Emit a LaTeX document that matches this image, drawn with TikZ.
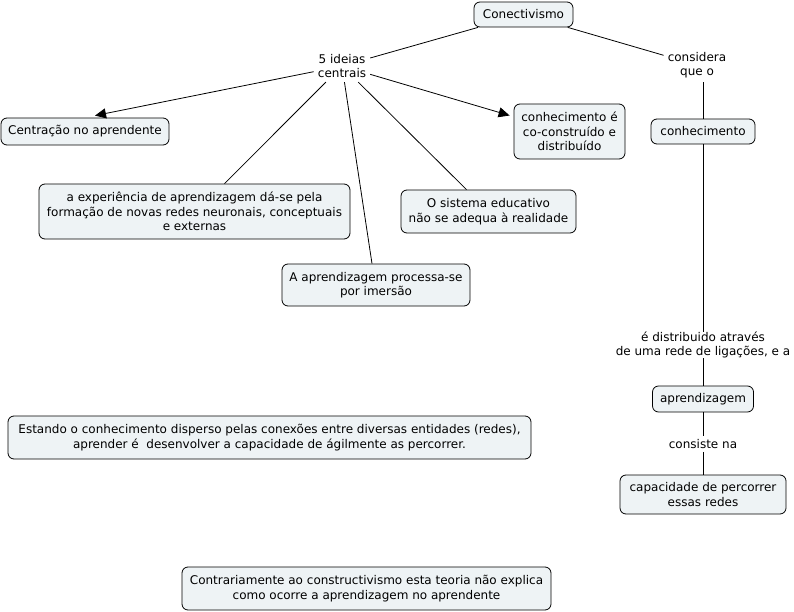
\documentclass[tikz,border=0pt]{standalone}
\usepackage{fontspec}
\setmainfont{DejaVu Sans}
\usetikzlibrary{arrows.meta}
\definecolor{boxfill}{HTML}{EEF3F5}
\newcommand{\mapfont}{\fontsize{12}{14.5}\selectfont}
\begin{document}
\begin{tikzpicture}[x=1pt,y=-1pt,
  box/.style={draw=black, line width=0.8pt, rounded corners=6pt, fill=boxfill, inner sep=0pt, align=center, font=\mapfont},
  lab/.style={inner sep=4pt, align=center, font=\mapfont},
  con/.style={line width=0.8pt},
  arr/.style={con, -{Triangle[length=11pt,width=10pt]}}]
\useasboundingbox (0,0) rectangle (794,612);
% nodes
\node[box, minimum width=99pt, minimum height=25pt] (conect) at (523.5,14.5) {Conectivismo};
\node[lab] (ideas) at (342,66) {5 ideias\\centrais};
\node[lab] (cons) at (697,65) {considera\\que o};
\node[box, minimum width=168pt, minimum height=27pt] (centr) at (85,131.5) {Centração no aprendente};
\node[box, minimum width=111pt, minimum height=55pt] (co) at (569.5,131.5) {conhecimento é\\co-construído e\\distribuído};
\node[box, minimum width=104pt, minimum height=25pt] (conh) at (703,131.5) {conhecimento};
\node[box, minimum width=311pt, minimum height=55pt] (exp) at (194.5,211.5) {a experiência de aprendizagem dá-se pela\\formação de novas redes neuronais, conceptuais\\e externas};
\node[box, minimum width=175pt, minimum height=43pt] (sis) at (488.5,211.5) {O sistema educativo\\não se adequa à realidade};
\node[box, minimum width=188pt, minimum height=42pt] (proc) at (376,285) {A aprendizagem processa-se\\por imersão};
\node[lab, inner sep=0pt] (dist) at (703,345) {é distribuido através\\de uma rede de ligações, e a};
\node[box, minimum width=101pt, minimum height=26pt] (aprend) at (703,399) {aprendizagem};
\node[lab, inner sep=3pt] (cons2) at (703,444) {consiste na};
\node[box, minimum width=166pt, minimum height=39pt] (capac) at (703,494.5) {capacidade de percorrer\\essas redes};
\node[box, minimum width=523pt, minimum height=43pt] (estando) at (269.5,437.5) {Estando o conhecimento disperso pelas conexões entre diversas entidades (redes),\\aprender é\ \ desenvolver a capacidade de ágilmente as percorrer.};
\node[box, minimum width=369pt, minimum height=43pt] (contra) at (366.5,588.5) {Contrariamente ao constructivismo esta teoria não explica\\como ocorre a aprendizagem no aprendente};
% connectors
\draw[con] (conect) -- (ideas);
\draw[con] (conect) -- (cons);
\draw[con] (cons.south -| conh.north) -- (conh.north);
\draw[arr] (ideas) -- ([xshift=10pt,yshift=2pt]centr.north);
\draw[arr] (ideas) -- ([xshift=-4pt,yshift=16pt]co.west);
\draw[con] (ideas) -- ([xshift=30pt]exp.north);
\draw[con] (ideas) -- ([xshift=-4pt]proc.north);
\draw[con] (ideas) -- ([xshift=-22pt]sis.north);
\draw[con] (conh) -- (dist);
\draw[con] (dist) -- (aprend);
\draw[con] (aprend) -- (cons2);
\draw[con] (cons2) -- (capac);
\end{tikzpicture}
\end{document}
